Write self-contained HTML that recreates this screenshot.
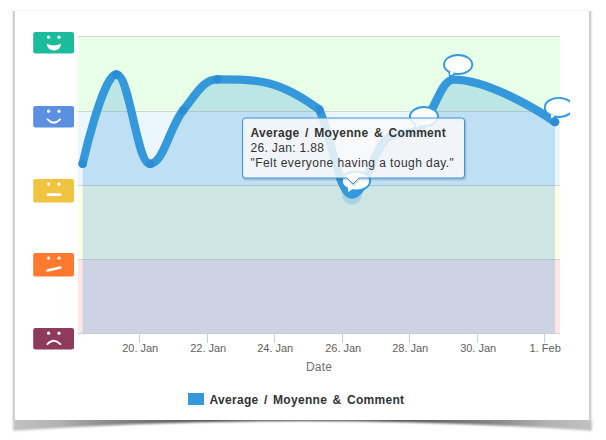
<!DOCTYPE html>
<html><head><meta charset="utf-8"><title>Chart</title>
<style>
html,body{margin:0;padding:0;background:#fff;}
body{width:606px;height:440px;position:relative;overflow:hidden;font-family:"Liberation Sans",sans-serif;}
#shadow{position:absolute;left:0;top:0;}
#paper{position:absolute;left:15px;top:11px;width:574px;height:409px;background:#fff;}
#chart{position:absolute;left:0;top:0;width:570px;height:420px;overflow:hidden;}
svg{position:absolute;left:0;top:0;}
.xl{position:absolute;top:341px;width:60px;text-align:center;font-size:11px;color:#606060;line-height:14px;white-space:nowrap;}
#xt{position:absolute;top:360px;left:269px;width:100px;text-align:center;font-size:12px;color:#707070;line-height:14px;letter-spacing:0.15px;}
#lg{position:absolute;left:209.5px;top:392.6px;font-size:12px;font-weight:bold;color:#333;line-height:14px;white-space:nowrap;letter-spacing:0.3px;word-spacing:1.8px;}
#tt{position:absolute;left:250.5px;top:126px;font-size:12px;color:#333;line-height:15px;white-space:nowrap;}
#tt b{letter-spacing:0.3px;word-spacing:1.95px;}
#tt .l2{letter-spacing:0.33px;}
#tt .l3{letter-spacing:0.44px;}
</style></head><body>
<svg id="shadow" width="606" height="440" viewBox="0 0 606 440">
<defs>
<linearGradient id="sg" x1="0" x2="1" y1="0" y2="0">
<stop offset="0" stop-color="#c2c2c2"/><stop offset="0.08" stop-color="#b2b2b2"/><stop offset="0.16" stop-color="#8c8c8c"/><stop offset="0.33" stop-color="#505050"/><stop offset="0.5" stop-color="#484848"/><stop offset="0.67" stop-color="#505050"/><stop offset="0.84" stop-color="#8c8c8c"/><stop offset="0.92" stop-color="#b2b2b2"/><stop offset="1" stop-color="#c2c2c2"/>
</linearGradient>
<filter id="bl" x="-5%" y="-50%" width="110%" height="200%"><feGaussianBlur stdDeviation="0.9"/></filter>
</defs>
<path d="M 13 417 L 592 417 L 592 430.8 Q 303 411.2 13 430.8 Z" fill="url(#sg)" filter="url(#bl)"/>
<rect x="11" y="11" width="1" height="410" fill="#f8f8f8"/>
<rect x="12" y="11" width="1" height="410" fill="#ebebeb"/>
<rect x="13" y="11" width="1" height="410" fill="#d0d0d0"/>
<rect x="14" y="11" width="1" height="410" fill="#d2d2d2"/>
<rect x="589" y="11" width="1" height="410" fill="#cccccc"/>
<rect x="590" y="11" width="1" height="410" fill="#d6d6d6"/>
<rect x="591" y="11" width="1" height="410" fill="#e9e9e9"/>
<rect x="592" y="11" width="1" height="410" fill="#f7f7f7"/>
<rect x="15" y="10" width="574" height="1" fill="#f6f6f6"/>
</svg>
<div id="paper"></div>
<div id="chart">
<svg width="570" height="420" viewBox="0 0 570 420">
<!-- bands -->
<rect x="78" y="36" width="482" height="75" fill="#e8ffe8"/>
<rect x="78" y="111" width="482" height="74" fill="#ecf6fd"/>
<rect x="78" y="185" width="482" height="74" fill="#ffffe6"/>
<rect x="78" y="259" width="482" height="74" fill="#ffe6e6"/>
<!-- gridlines -->
<rect x="78" y="36" width="482" height="1" fill="#d4d4d4"/>
<rect x="78" y="111" width="482" height="1" fill="#d4d4d4"/>
<rect x="78" y="185" width="482" height="1" fill="#d4d4d4"/>
<rect x="78" y="259" width="482" height="1" fill="#d4d4d4"/>
<rect x="78" y="333" width="482" height="1" fill="#c0d0e0"/>
<rect x="139" y="333" width="1" height="10" fill="#c0d0e0"/><rect x="207" y="333" width="1" height="10" fill="#c0d0e0"/><rect x="274" y="333" width="1" height="10" fill="#c0d0e0"/><rect x="342" y="333" width="1" height="10" fill="#c0d0e0"/><rect x="409" y="333" width="1" height="10" fill="#c0d0e0"/><rect x="477" y="333" width="1" height="10" fill="#c0d0e0"/><rect x="544" y="333" width="1" height="10" fill="#c0d0e0"/>
<!-- series -->
<path d="M 82.60 163.80 C 82.60 163.80 102.82 74.50 116.30 74.50 C 129.82 74.50 136.58 163.80 150.10 163.80 C 163.22 163.80 169.78 127.05 182.90 110.60 C 196.70 93.29 203.60 79.40 217.40 79.40 C 258.16 79.40 278.54 79.40 319.30 109.60 C 332.38 139.80 338.92 194.50 352.00 194.50 C 365.32 194.50 371.98 153.00 385.30 140.00 C 399.38 127.00 406.42 139.45 420.50 127.00 C 433.74 115.29 440.36 79.60 453.60 79.60 C 494.16 79.60 555.00 122.00 555.00 122.00 L 555.00 333 L 82.60 333 Z" fill="#3498db" fill-opacity="0.245"/>
<path d="M 82.60 163.80 C 82.60 163.80 102.82 74.50 116.30 74.50 C 129.82 74.50 136.58 163.80 150.10 163.80 C 163.22 163.80 169.78 127.05 182.90 110.60 C 196.70 93.29 203.60 79.40 217.40 79.40 C 258.16 79.40 278.54 79.40 319.30 109.60 C 332.38 139.80 338.92 194.50 352.00 194.50 C 365.32 194.50 371.98 153.00 385.30 140.00 C 399.38 127.00 406.42 139.45 420.50 127.00 C 433.74 115.29 440.36 79.60 453.60 79.60 C 494.16 79.60 555.00 122.00 555.00 122.00" fill="none" stroke="#3498db" stroke-width="8.3" stroke-linecap="round" stroke-linejoin="round"/>
<circle cx="82.60" cy="163.8" r="4.3" fill="#2d8dd4"/>
<circle cx="116.30" cy="74.5" r="4.3" fill="#2d8dd4"/>
<circle cx="150.10" cy="163.8" r="4.3" fill="#2d8dd4"/>
<circle cx="182.90" cy="110.6" r="4.3" fill="#2d8dd4"/>
<circle cx="217.40" cy="79.4" r="4.3" fill="#2d8dd4"/>
<circle cx="319.30" cy="109.6" r="4.3" fill="#2d8dd4"/>
<circle cx="555.00" cy="122" r="4.3" fill="#2d8dd4"/>
<circle cx="352" cy="194.5" r="10" fill="#3498db" fill-opacity="0.25"/>
<g transform="translate(356.0,181.0)">
<path d="M -9 7 L -8.3 12.1 L -3 9.4 Z" fill="#fff" stroke="#3498db" stroke-width="1.7" stroke-linejoin="round"/>
<ellipse cx="0" cy="0" rx="14.1" ry="9.55" fill="#fff" stroke="#3498db" stroke-width="1.9"/>
<path d="M -8.2 6.6 L -7.6 10.6 L -3.6 8.4 Z" fill="#fff"/>
</g>
<g transform="translate(424.0,116.6)">
<path d="M -9 7 L -8.3 12.1 L -3 9.4 Z" fill="#fff" stroke="#3498db" stroke-width="1.7" stroke-linejoin="round"/>
<ellipse cx="0" cy="0" rx="14.1" ry="9.55" fill="#fff" stroke="#3498db" stroke-width="1.9"/>
<path d="M -8.2 6.6 L -7.6 10.6 L -3.6 8.4 Z" fill="#fff"/>
</g>
<g transform="translate(458.1,64.5)">
<path d="M -9 7 L -8.3 12.1 L -3 9.4 Z" fill="#fff" stroke="#3498db" stroke-width="1.7" stroke-linejoin="round"/>
<ellipse cx="0" cy="0" rx="14.1" ry="9.55" fill="#fff" stroke="#3498db" stroke-width="1.9"/>
<path d="M -8.2 6.6 L -7.6 10.6 L -3.6 8.4 Z" fill="#fff"/>
</g>
<g transform="translate(558.9,107.4)">
<path d="M -9 7 L -8.3 12.1 L -3 9.4 Z" fill="#fff" stroke="#3498db" stroke-width="1.7" stroke-linejoin="round"/>
<ellipse cx="0" cy="0" rx="14.1" ry="9.55" fill="#fff" stroke="#3498db" stroke-width="1.9"/>
<path d="M -8.2 6.6 L -7.6 10.6 L -3.6 8.4 Z" fill="#fff"/>
</g>
<g transform="translate(33.2,32.1)"><rect x="0" y="0" width="40.8" height="21.4" rx="2.2" fill="#1abc9c"/><g transform="translate(0,0)"><circle cx="15.4" cy="5.1" r="1.6" fill="#fff"/><circle cx="25.8" cy="5.1" r="1.6" fill="#fff"/><path d="M13.5 11.4 Q20.6 15.2 27.9 11.4 Q27 18.4 20.7 18.4 Q14.4 18.4 13.5 11.4 Z" fill="#fff"/></g></g>
<g transform="translate(33.2,106.1)"><rect x="0" y="0" width="40.8" height="21.4" rx="2.2" fill="#5b8fdf"/><g transform="translate(0,0)"><circle cx="15.4" cy="5.1" r="1.6" fill="#fff"/><circle cx="25.8" cy="5.1" r="1.6" fill="#fff"/><path d="M14.4 13.3 Q20.6 19.9 27 13.3" fill="none" stroke="#fff" stroke-width="1.9" stroke-linecap="round"/></g></g>
<g transform="translate(33.2,179)"><rect x="0" y="0" width="40.8" height="23.6" rx="2.2" fill="#f0c341"/><g transform="translate(0,0)"><circle cx="15.4" cy="5.1" r="1.6" fill="#fff"/><circle cx="25.8" cy="5.1" r="1.6" fill="#fff"/><path d="M14.7 15.6 L26.9 15.6" fill="none" stroke="#fff" stroke-width="2.6" stroke-linecap="round"/></g></g>
<g transform="translate(33.2,253)"><rect x="0" y="0" width="40.8" height="23.6" rx="2.2" fill="#ff7a2f"/><g transform="translate(0,0)"><circle cx="15.4" cy="5.1" r="1.6" fill="#fff"/><circle cx="25.8" cy="5.1" r="1.6" fill="#fff"/><path d="M14.3 17.5 L27.1 14.5" fill="none" stroke="#fff" stroke-width="2.5" stroke-linecap="round"/></g></g>
<g transform="translate(33.2,328.1)"><rect x="0" y="0" width="40.8" height="21.4" rx="2.2" fill="#8e3a5d"/><g transform="translate(0,0)"><circle cx="15.4" cy="5.1" r="1.6" fill="#fff"/><circle cx="25.8" cy="5.1" r="1.6" fill="#fff"/><path d="M14.2 16 Q20.6 9.2 27.2 16" fill="none" stroke="#fff" stroke-width="1.9" stroke-linecap="round"/></g></g>

<rect x="188" y="393" width="16" height="12" fill="#3498db"/>
<!-- tooltip -->
<path d="M 246.5 119.5 L 462.5 119.5 Q 465.5 119.5 465.5 122.5 L 465.5 176.5 Q 465.5 179.5 462.5 179.5 L 360 179.5 L 354 185.5 L 348 179.5 L 246.5 179.5 Q 243.5 179.5 243.5 176.5 L 243.5 122.5 Q 243.5 119.5 246.5 119.5 Z" fill="none" stroke="#000" stroke-opacity="0.06" stroke-width="3"/>
<path d="M 246 119 L 462 119 Q 465 119 465 122 L 465 176 Q 465 179 462 179 L 359.5 179 L 353.5 185 L 347.5 179 L 246 179 Q 243 179 243 176 L 243 122 Q 243 119 246 119 Z" fill="none" stroke="#000" stroke-opacity="0.12" stroke-width="1.5"/>
<path d="M 245.5 118 L 461.5 118 Q 464.5 118 464.5 121 L 464.5 175 Q 464.5 178 461.5 178 L 359 178 L 353 184 L 347 178 L 245.5 178 Q 242.5 178 242.5 175 L 242.5 121 Q 242.5 118 245.5 118 Z" fill="#f9f9f9" fill-opacity="0.85" stroke="#3498db" stroke-width="1"/>
</svg>
<div class="xl" style="left:110.19999999999999px">20. Jan</div><div class="xl" style="left:178.2px">22. Jan</div><div class="xl" style="left:245.2px">24. Jan</div><div class="xl" style="left:313.2px">26. Jan</div><div class="xl" style="left:380.2px">28. Jan</div><div class="xl" style="left:448.2px">30. Jan</div><div class="xl" style="left:515.2px">1. Feb</div>
<div id="xt">Date</div>
<div id="lg">Average / Moyenne &amp; Comment</div>
<div id="tt"><b>Average / Moyenne &amp; Comment</b><br><span class="l2">26. Jan: 1.88</span><br><span class="l3">"Felt everyone having a tough day."</span></div>
</div>
</body></html>
